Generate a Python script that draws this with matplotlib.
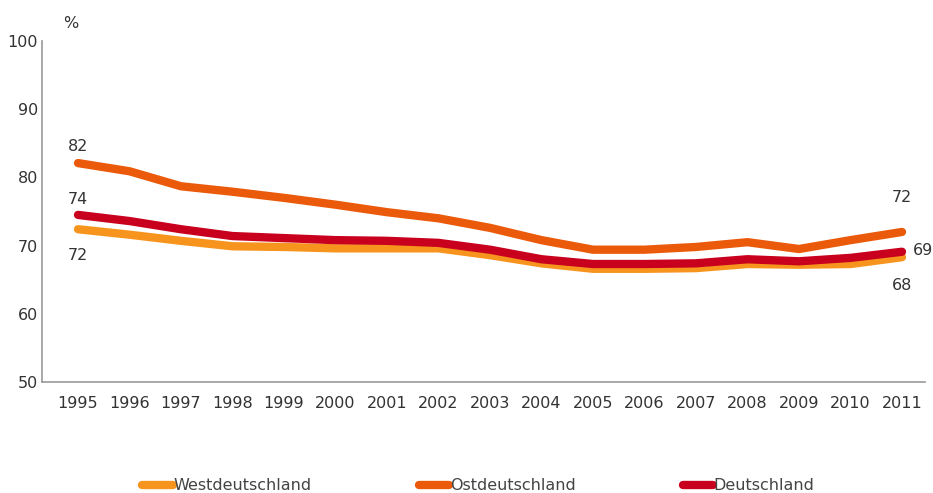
import matplotlib
matplotlib.use("Agg")
import matplotlib.pyplot as plt
from matplotlib.lines import Line2D

# ── Data ──────────────────────────────────────────────────────────────────────
years = list(range(1995, 2012))
west = [72.4, 71.6, 70.7, 69.9, 69.8, 69.6, 69.6, 69.6, 68.6, 67.4,
        66.6, 66.6, 66.7, 67.3, 67.2, 67.3, 68.3]
ost = [82.1, 80.9, 78.7, 77.9, 77.0, 76.0, 74.9, 74.0, 72.6, 70.8,
       69.4, 69.4, 69.8, 70.5, 69.5, 70.8, 72.0]
deutschland = [74.5, 73.6, 72.4, 71.4, 71.1, 70.8, 70.7, 70.4, 69.4, 68.0,
               67.3, 67.3, 67.4, 68.0, 67.7, 68.2, 69.1]
series_names = ["Westdeutschland", "Ostdeutschland", "Deutschland"]
colors = ["#F7941D", "#EB5A0A", "#C8001E"]

TXT = "#333333"

W, H = 933, 493
fig = plt.figure(figsize=(W / 100, H / 100), dpi=100)
plt.rcParams["font.family"] = ["DejaVu Sans"]

# axes placed in pixel coordinates
left, right, top, bottom = 42, 925, 41, 382
ax = fig.add_axes([left / W, 1 - bottom / H, (right - left) / W, (bottom - top) / H])

for vals, col in zip([west, ost, deutschland], colors):
    ax.plot(years, vals, color=col, lw=6, solid_capstyle="round",
            solid_joinstyle="round")

x0 = 1995 - (78 - left) / 51.5
x1 = 2011 + (right - 902) / 51.5
ax.set_xlim(x0, x1)
ax.set_ylim(50, 100)
ax.set_yticks(range(50, 101, 10))
ax.set_xticks(years)
ax.tick_params(length=0, labelsize=11.5, colors=TXT)
ax.tick_params(axis="x", pad=10)
ax.tick_params(axis="y", pad=3)

for s in ["top", "right"]:
    ax.spines[s].set_visible(False)
for s in ["left", "bottom"]:
    ax.spines[s].set_color("#999999")
    ax.spines[s].set_linewidth(1.2)

ax.text(x0 + 0.55, 101.5, "%", fontsize=11.5, color=TXT, ha="center", va="bottom")

# value labels
lab = dict(fontsize=11.5, color=TXT, va="center")
ax.text(1995, ost[0] + 2.4, "82", ha="center", **lab)
ax.text(1995, deutschland[0] + 2.2, "74", ha="center", **lab)
ax.text(1995, west[0] - 3.8, "72", ha="center", **lab)
ax.text(2011, ost[-1] + 5.0, "72", ha="center", **lab)
ax.text(2011.6, deutschland[-1] + 0.2, "69", ha="right", clip_on=False, **lab)
ax.text(2011, west[-1] - 4.2, "68", ha="center", **lab)

# legend
handles = [Line2D([0], [0], color=c, lw=6, solid_capstyle="round") for c in colors]
leg = fig.legend(handles, series_names, loc="center",
                 bbox_to_anchor=(478.5 / W, 1 - 486 / H),
                 ncol=3, frameon=False, handlelength=1.9, handletextpad=0.05,
                 columnspacing=6.7, fontsize=11.5)
for t in leg.get_texts():
    t.set_color("#444444")

fig.savefig("out.png", dpi=100)
